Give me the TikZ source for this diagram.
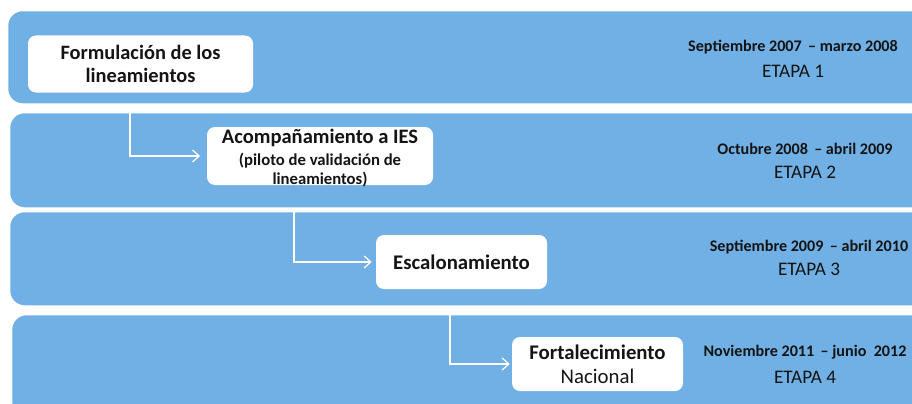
\documentclass[tikz,border=0pt]{standalone}
\usepackage{fontspec}
\setmainfont{Carlito}
\usetikzlibrary{arrows.meta}
\definecolor{bandblue}{RGB}{113,176,229}
\definecolor{ink}{RGB}{20,20,20}
\tikzset{
  band/.style={fill=bandblue, rounded corners=11pt, anchor=north west, inner sep=0pt},
  whitebox/.style={fill=white, rounded corners=6pt, inner sep=0pt, align=center, text=ink},
  boxtext/.style={inner sep=0pt, align=center, text=ink},
  datetxt/.style={font=\fontsize{12.1}{14}\selectfont\bfseries, text=ink, inner sep=0pt},
  etapatxt/.style={font=\fontsize{14.4}{17}\selectfont, text=ink, inner sep=0pt},
  conn/.style={draw=white, line width=0.9pt, -{Straight Barb[length=5pt,width=9pt,line width=0.9pt]}},
}
\begin{document}
\begin{tikzpicture}[x=0.75pt, y=-0.75pt]
\useasboundingbox (0,0) rectangle (912,403);
\clip (0,0) rectangle (912,403);
\fill[white] (0,0) rectangle (912,403);
% bands
\node[band, minimum width=691.5pt, minimum height=69pt] (band1) at (8,11) {};
\node[band, minimum width=690pt, minimum height=70.5pt] (band2) at (10,113) {};
\node[band, minimum width=690pt, minimum height=69.75pt] (band3) at (10,212) {};
\node[band, minimum width=688.5pt, minimum height=78.75pt] (band4) at (12,315) {};
% boxes
\node[whitebox, minimum width=168.75pt, minimum height=42.75pt,
      font=\fontsize{15.3}{17.3}\selectfont\bfseries] (box1) at (140.5,64)
      {Formulación de los\\lineamientos};
\node[whitebox, minimum width=169.5pt, minimum height=43.5pt] (box2) at (320,156) {};
\node[boxtext, font=\fontsize{12.5}{14.2}\selectfont\bfseries] (box2t) at (320,158)
      {\fontsize{15.4}{14.2}\selectfont Acompañamiento a IES\\[2pt]
       (piloto de validación de\\
       lineamientos)};
\node[whitebox, minimum width=128.25pt, minimum height=40.5pt,
      font=\fontsize{15.6}{18}\selectfont\bfseries] (box3) at (461.5,262)
      {Escalonamiento};
\node[whitebox, minimum width=128.25pt, minimum height=40.5pt,
      font=\fontsize{15.6}{18}\selectfont] (box4) at (597.5,364)
      {\textbf{Fortalecimiento}\\Nacional};
% dates
\node[datetxt] (d1) at (793,47) {Septiembre 2007 \,– marzo 2008};
\node[etapatxt] (e1) at (793,71) {ETAPA 1};
\node[datetxt] (d2) at (805,149) {Octubre 2008 \,– abril 2009};
\node[etapatxt] (e2) at (805,172) {ETAPA 2};
\node[datetxt] (d3) at (809,247) {Septiembre 2009 \,– abril 2010};
\node[etapatxt] (e3) at (809,269) {ETAPA 3};
\node[datetxt] (d4) at (805,352) {Noviembre 2011 \,– junio\ \ 2012};
\node[etapatxt] (e4) at (805,377) {ETAPA 4};
% connectors
\coordinate (s1) at (130,113);
\coordinate (s2) at (294,212);
\coordinate (s3) at (450,315);
\draw[conn, shorten >=5pt] (s1) |- (box2.west);
\draw[conn, shorten >=3pt] (s2) |- (box3.west);
\draw[conn, shorten >=1.5pt] (s3) |- (box4.west);
\end{tikzpicture}
\end{document}
